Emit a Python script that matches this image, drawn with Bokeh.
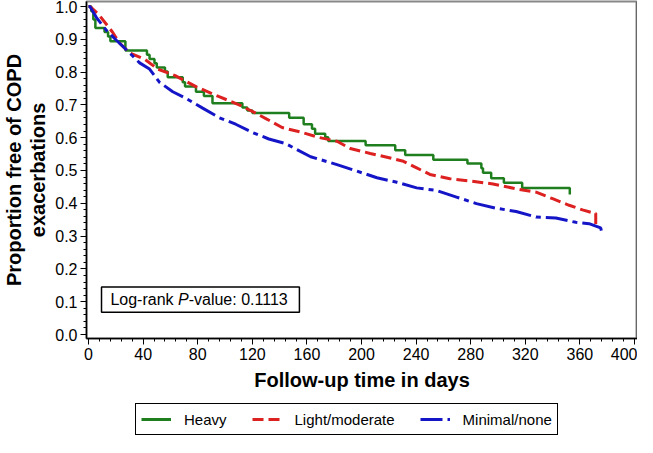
from bokeh.plotting import figure
from bokeh.layouts import column
from bokeh.models import (FixedTicker, NumeralTickFormatter, LinearAxis, Legend, LegendItem,
                          BoxAnnotation, Label, Range1d)
from bokeh.embed import file_html
from bokeh.resources import INLINE

# ---------------- data ----------------
heavy_days = [0, 2, 3.5, 5, 11.7, 14.3, 16, 27, 42.8, 44.7, 48.3, 50, 56, 58, 69, 70.7, 78.7,
              84.5, 90.8, 112.7, 116.3, 120, 147, 157.6, 163.7, 166, 173.4, 175.6, 203,
              224.7, 232, 252.6, 277.6, 287.8, 289, 295, 304.3, 317.7, 352.6]
heavy_surv = [1.0, 0.985, 0.96, 0.934, 0.922, 0.908, 0.894, 0.866, 0.853, 0.840, 0.827, 0.814,
              0.802, 0.784, 0.769, 0.756, 0.740, 0.727, 0.705, 0.692, 0.683, 0.675, 0.661,
              0.641, 0.627, 0.612, 0.601, 0.590, 0.577, 0.562, 0.547, 0.533, 0.521, 0.507,
              0.493, 0.476, 0.463, 0.447, 0.427]

light_days = [0, 1, 7.5, 17.5, 22.8, 30.1, 41.5, 50.8, 63.5, 79.4, 95.7, 110.3, 120, 130.9,
              141.8, 156.4, 168.5, 182, 191.8, 206.4, 221, 230.7, 240.4, 250.1, 264.7, 279.3,
              296.3, 313.3, 327.9, 340, 352.1, 361.9, 370.4, 371.6, 371.6]
light_surv = [1.0, 1.0, 0.975, 0.922, 0.888, 0.858, 0.838, 0.809, 0.789, 0.754, 0.725, 0.700,
              0.680, 0.656, 0.631, 0.616, 0.601, 0.589, 0.567, 0.552, 0.538, 0.528, 0.508,
              0.488, 0.475, 0.468, 0.459, 0.444, 0.434, 0.414, 0.394, 0.380, 0.370, 0.370,
              0.330]

minimal_days = [0, 1, 5.8, 13.1, 20.4, 27.7, 37.4, 44.7, 51.9, 61.7, 71.4, 83.6, 95.7, 107.8,
                120, 132.1, 144.3, 162.7, 182, 196.7, 211.3, 225.9, 240.4, 255, 269.6, 284.2,
                298.7, 313.3, 327.9, 342.4, 357, 366.7, 375.2, 376.5]
minimal_surv = [1.0, 1.0, 0.966, 0.927, 0.897, 0.868, 0.828, 0.809, 0.769, 0.740, 0.720, 0.690,
                0.661, 0.641, 0.616, 0.596, 0.582, 0.542, 0.518, 0.498, 0.478, 0.464, 0.447,
                0.439, 0.419, 0.399, 0.385, 0.375, 0.358, 0.355, 0.342, 0.338, 0.325, 0.304]

series_names = ["Heavy", "Light/moderate", "Minimal/none"]
series_colors = ["#1f7f1f", "#dd2020", "#1515c8"]
series_dash = ["solid", "11 5", "22 5 5 5"]
x_ticks = [0, 40, 80, 120, 160, 200, 240, 280, 320, 360, 400]
x_minor = list(range(0, 401, 8))
y_ticks = [0.0, 0.1, 0.2, 0.3, 0.4, 0.5, 0.6, 0.7, 0.8, 0.9, 1.0]
y_minor = [round(i * 0.02, 2) for i in range(51)]
annotation_text = ["Log-rank ", "P", "-value: 0.1113"]

FONT = "Liberation Sans"

p = figure(width=637, height=402, x_range=Range1d(-1.5, 402.2), y_range=Range1d(-0.012, 1.015),
           output_backend="svg", toolbar_location=None,
           min_border_left=0, min_border_right=0, min_border_top=1, min_border_bottom=64)
p.xgrid.visible = False
p.ygrid.visible = False
p.background_fill_color = "white"
p.border_fill_color = "white"
p.outline_line_color = "#888888"
p.outline_line_width = 2

for ax in (p.xaxis[0], p.yaxis[0]):
    ax.axis_line_color = "black"
    ax.axis_line_width = 1.5
    ax.major_tick_line_color = "black"
    ax.minor_tick_line_color = "black"
    ax.major_tick_out = 6
    ax.major_tick_in = 0
    ax.minor_tick_out = 3
    ax.minor_tick_in = 0
    ax.major_label_text_font = FONT
    ax.major_label_text_font_size = "16px"
    ax.major_label_text_color = "black"
    ax.axis_label_text_font = FONT
    ax.axis_label_text_font_size = "20px"
    ax.axis_label_text_font_style = "bold"
    ax.axis_label_text_color = "black"
    ax.major_label_standoff = 3

p.xaxis[0].ticker = FixedTicker(ticks=x_ticks, minor_ticks=x_minor)
p.yaxis[0].ticker = FixedTicker(ticks=y_ticks, minor_ticks=y_minor)
p.yaxis[0].formatter = NumeralTickFormatter(format="0.0")
p.xaxis[0].axis_label = "Follow-up time in days"
p.xaxis[0].axis_label_standoff = 6
p.yaxis[0].axis_label = "Proportion free of COPD\nexacerbations"
p.yaxis[0].axis_label_standoff = 3
p.yaxis[0].axis_label_text_line_height = 1.1

right = LinearAxis(ticker=FixedTicker(ticks=[]), major_label_text_font_size="0px",
                   axis_line_color="black", axis_line_width=1.5,
                   major_tick_line_color=None, minor_tick_line_color=None,
                   major_label_standoff=0)
p.add_layout(right, "right")

p.step(heavy_days, heavy_surv, mode="after", line_color=series_colors[0], line_width=2.5)
p.line(light_days, light_surv, line_color=series_colors[1], line_width=3,
       line_dash=series_dash[1])
p.line(minimal_days, minimal_surv, line_color=series_colors[2], line_width=3,
       line_dash=series_dash[2])

box = BoxAnnotation(left=9.5, right=154.5, bottom=0.068, top=0.145, fill_color="white",
                    fill_alpha=1.0, line_color="black", line_alpha=1.0, line_width=1.5)
p.add_layout(box)
offsets = [0, 67.6, 78.3]
styles = ["normal", "italic", "normal"]
for t, off, st in zip(annotation_text, offsets, styles):
    p.add_layout(Label(x=16, y=0.1065, x_offset=off, text=t, text_font=FONT,
                       text_font_size="16px", text_font_style=st, text_color="black",
                       text_baseline="middle", text_align="left"))

# ---------------- legend strip below the chart ----------------
lg = figure(width=637, height=35, x_range=Range1d(0, 1), y_range=Range1d(0, 1),
            output_backend="svg", toolbar_location=None, x_axis_type=None, y_axis_type=None,
            min_border_left=0, min_border_right=0, min_border_top=0, min_border_bottom=0)
lg.xgrid.visible = False
lg.ygrid.visible = False
lg.outline_line_color = None
lg.background_fill_color = "white"
lg.border_fill_color = "white"
items = []
for name, col, dash in zip(series_names, series_colors, series_dash):
    # legend-only renderer: its points sit outside the strip's visible range
    r = lg.line([-5, -4], [-5, -4], line_color=col, line_width=3, line_dash=dash)
    items.append(LegendItem(label=name, renderers=[r]))

legend = Legend(items=items, orientation="horizontal", location=(49, 2),
                label_text_font=FONT, label_text_font_size="15px", label_text_color="black",
                glyph_width=30, glyph_height=20, label_height=20, label_standoff=13,
                spacing=25, padding=5, margin=0,
                border_line_color="black", border_line_width=1.5, border_line_alpha=1.0,
                background_fill_color="white", background_fill_alpha=1.0)
lg.add_layout(legend)

layout = column(p, lg, spacing=0)
open("out.html", "w").write(file_html(layout, INLINE))
